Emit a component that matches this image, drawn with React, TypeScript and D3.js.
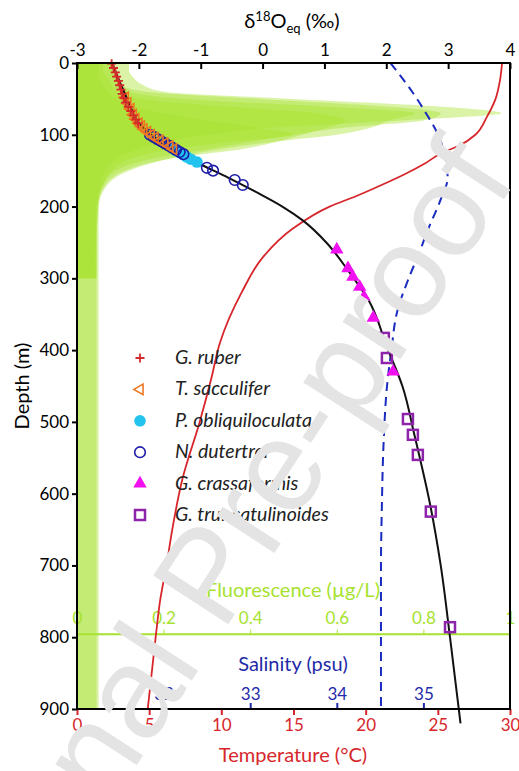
import React, { useEffect, useRef } from 'react';
import * as d3 from 'd3';

// depth grid of the fluorescence casts (m)
const fluoDepth = [0, 10, 20, 30, 40, 50, 60, 70, 80, 90, 100, 110, 120, 130, 140, 150, 170, 200, 250, 300, 400, 500, 600, 700, 800, 900];
// fluorescence casts (µg/L); the last three stop at 300 m
const fluoCastA = [0.12, 0.12, 0.13, 0.15, 0.2, 0.5, 0.82, 0.98, 0.75, 0.45, 0.3, 0.2, 0.14, 0.1, 0.08, 0.065, 0.055, 0.05, 0.05, 0.05, 0.05, 0.05, 0.05, 0.05, 0.05, 0.05];
const fluoCastB = [0.08, 0.08, 0.09, 0.1, 0.16, 0.42, 0.7, 0.84, 0.8, 0.62, 0.5, 0.4, 0.3, 0.2, 0.13, 0.09, 0.06, 0.045, 0.045, 0.045, 0.045, 0.045, 0.045, 0.045, 0.045, 0.045];
const fluoCastC = [0.08, 0.085, 0.09, 0.1, 0.12, 0.25, 0.55, 0.78, 0.72, 0.68, 0.6, 0.45, 0.33, 0.24, 0.17, 0.12, 0.07, 0.05, 0.045, 0.045];
const fluoCastD = [0.06, 0.06, 0.07, 0.08, 0.09, 0.15, 0.33, 0.55, 0.62, 0.58, 0.52, 0.46, 0.38, 0.25, 0.16, 0.11, 0.065, 0.048, 0.045, 0.045];
const fluoCastE = [0.05, 0.05, 0.05, 0.06, 0.07, 0.09, 0.12, 0.2, 0.3, 0.42, 0.5, 0.35, 0.22, 0.14, 0.1, 0.08, 0.06, 0.045, 0.043, 0.043];

// temperature profile
const tempDepth = [0, 25, 50, 75, 100, 115, 125, 140, 155, 170, 185, 200, 230, 270, 320, 390, 440, 500, 580, 650, 700, 750, 800, 900];
const tempValue = [29.45, 29.3, 29.0, 28.4, 27.6, 26.5, 25.3, 24.1, 22.7, 21.1, 19.4, 17.5, 15.0, 12.9, 11.4, 9.9, 9.3, 8.5, 7.3, 6.6, 6.2, 5.75, 5.45, 4.9];

// salinity profile
const salDepth = [0, 40, 70, 100, 130, 160, 190, 230, 265, 300, 345, 400, 450, 530, 620, 700, 800, 900];
const salValue = [34.62, 34.87, 35.03, 35.17, 35.25, 35.28, 35.2, 35.06, 34.95, 34.83, 34.7, 34.63, 34.58, 34.54, 34.52, 34.51, 34.51, 34.51];

// equilibrium d18O profile
const isoDepth = [0, 20, 40, 60, 80, 100, 120, 140, 160, 180, 200, 220, 250, 290, 330, 400, 450, 520, 620, 700, 800, 920];
const isoValue = [-2.43, -2.34, -2.24, -2.14, -2.03, -1.8, -1.48, -1.03, -0.55, -0.1, 0.32, 0.66, 1.03, 1.39, 1.71, 2.03, 2.26, 2.46, 2.72, 2.88, 3.03, 3.2];

// foraminifera d18O (‰) and depth (m)
const ruberDelta = [-2.44, -2.41, -2.38, -2.36, -2.33, -2.31, -2.29, -2.27, -2.24, -2.21, -2.17, -2.13, -2.09, -2.05, -2.01];
const ruberDepth = [1, 7, 13, 19, 25, 31, 37, 43, 49, 55, 61, 67, 73, 79, 84];
const sacculiferDelta = [-2.22, -2.18, -2.13, -2.09, -2.05, -2.0, -1.96, -1.92, -1.86, -1.8, -1.74, -1.66, -1.58, -1.5, -1.44];
const sacculiferDepth = [48, 56, 64, 72, 78, 84, 88, 92, 96, 100, 104, 108, 112, 116, 120];
const obliquiDelta = [-1.5, -1.45, -1.4, -1.34, -1.28, -1.22, -1.16, -1.06];
const obliquiDepth = [116, 119, 122, 125, 128, 131, 134, 138];
const dutertreiDelta = [-1.82, -1.76, -1.7, -1.64, -1.58, -1.52, -1.46, -1.4, -1.34, -1.28, -0.9, -0.8, -0.45, -0.32];
const dutertreiDepth = [100, 103, 106, 109, 112, 115, 118, 121, 124, 127, 146, 150, 163, 170];
const crassaDelta = [1.2, 1.38, 1.46, 1.57, 1.64, 1.79, 2.11];
const crassaDepth = [260, 286, 298, 312, 326, 355, 430];
const truncaDelta = [1.96, 2.01, 2.35, 2.43, 2.51, 2.72, 3.03];
const truncaDepth = [383, 411, 496, 518, 546, 625, 786];

const legendNames = ['G. ruber', 'T. sacculifer', 'P. obliquiloculata', 'N. dutertrei', 'G. crassaformis', 'G. truncatulinoides'];

// axis ticks
const isoTicks = [-3, -2, -1, 0, 1, 2, 3, 4];
const depthTicks = [0, 100, 200, 300, 400, 500, 600, 700, 800, 900];
const tempTicks = [0, 5, 10, 15, 20, 25, 30];
const salTicks = [32, 33, 34, 35];
const fluoTicks = [0, 0.2, 0.4, 0.6, 0.8, 1];
const fluoAxisDepth = 795;

const App = () => {
    const svgRef = useRef<SVGSVGElement | null>(null);

    useEffect(() => {
        const width = 519;
        const height = 771;
        const left = 77;
        const right = 510;
        const top = 63;
        const bottom = 709;
        const font = 'Lato, "Open Sans", sans-serif';

        const red = '#d7262b';
        const blue = '#1f2aa8';
        const green = '#a6e22e';

        const svg = d3.select(svgRef.current);
        svg.selectAll('*').remove();
        svg.attr('width', width).attr('height', height);

        const y = d3.scaleLinear().domain([0, 900]).range([top, bottom]);
        const xIso = d3.scaleLinear().domain([-3, 4]).range([left, right]);
        const xTemp = d3.scaleLinear().domain([0, 30]).range([left, right]);
        const xSal = d3.scaleLinear().domain([31, 36]).range([left, right]);
        const xFluo = d3.scaleLinear().domain([0, 1]).range([left, right]);

        // fluorescence casts, stacked with transparency
        const fluoArea = d3.area<number[]>()
            .curve(d3.curveMonotoneY)
            .x0(xFluo(0))
            .x1(d => xFluo(d[0]))
            .y(d => y(d[1]));
        [fluoCastA, fluoCastB, fluoCastC, fluoCastD, fluoCastE].forEach(cast => {
            const pts = cast.map((f, i) => [f, fluoDepth[i]]);
            svg.append('path')
                .datum(pts)
                .attr('d', fluoArea)
                .attr('fill', green)
                .attr('fill-opacity', 0.42);
        });

        // fluorescence axis inside the plot
        const fluoAxis = svg.append('g')
            .attr('transform', `translate(0,${y(fluoAxisDepth)})`)
            .call(d3.axisTop(xFluo).tickValues(fluoTicks).tickFormat(d => String(d))
                .tickSize(4).tickSizeOuter(0).tickPadding(6))
            .attr('font-family', font)
            .attr('font-size', 17);
        fluoAxis.select('.domain').attr('stroke', green).attr('stroke-width', 2);
        fluoAxis.selectAll('line').attr('stroke', green);
        fluoAxis.selectAll('text').attr('fill', green);

        const line = d3.line<number[]>()
            .curve(d3.curveMonotoneY)
            .x(d => d[0])
            .y(d => y(d[1]));

        svg.append('path')
            .datum(tempValue.map((t, i) => [xTemp(t), tempDepth[i]]))
            .attr('d', line)
            .attr('fill', 'none')
            .attr('stroke', red)
            .attr('stroke-width', 1.8);

        svg.append('path')
            .datum(salValue.map((s, i) => [xSal(s), salDepth[i]]))
            .attr('d', line)
            .attr('fill', 'none')
            .attr('stroke', '#1a2bc0')
            .attr('stroke-width', 2)
            .attr('stroke-dasharray', '9,6');

        svg.append('path')
            .datum(isoValue.map((v, i) => [xIso(v), isoDepth[i]]))
            .attr('d', line)
            .attr('fill', 'none')
            .attr('stroke', '#111')
            .attr('stroke-width', 2);

        const drawMarker = (g, kind, cx, cy) => {
            if (kind === 'cross') {
                g.append('path')
                    .attr('d', `M${cx - 4.5},${cy}H${cx + 4.5}M${cx},${cy - 4.5}V${cy + 4.5}`)
                    .attr('stroke', '#d42a2a').attr('stroke-width', 1.8);
            } else if (kind === 'triLeft') {
                g.append('path')
                    .attr('d', d3.symbol().type(d3.symbolTriangle).size(48)())
                    .attr('transform', `translate(${cx},${cy}) rotate(-90)`)
                    .attr('fill', 'none').attr('stroke', '#ee7722').attr('stroke-width', 1.6);
            } else if (kind === 'dot') {
                g.append('circle').attr('cx', cx).attr('cy', cy).attr('r', 5.8)
                    .attr('fill', '#22c3ee');
            } else if (kind === 'ring') {
                g.append('circle').attr('cx', cx).attr('cy', cy).attr('r', 5.3)
                    .attr('fill', 'none').attr('stroke', '#1c1ca8').attr('stroke-width', 1.6);
            } else if (kind === 'triUp') {
                g.append('path')
                    .attr('d', d3.symbol().type(d3.symbolTriangle).size(78)())
                    .attr('transform', `translate(${cx},${cy})`)
                    .attr('fill', '#f010f0');
            } else if (kind === 'square') {
                g.append('rect').attr('x', cx - 5).attr('y', cy - 5).attr('width', 10).attr('height', 10)
                    .attr('fill', 'none').attr('stroke', '#8e24aa').attr('stroke-width', 2.5);
            }
        };

        const species = [
            { kind: 'dot', delta: obliquiDelta, depth: obliquiDepth },
            { kind: 'ring', delta: dutertreiDelta, depth: dutertreiDepth },
            { kind: 'triLeft', delta: sacculiferDelta, depth: sacculiferDepth },
            { kind: 'cross', delta: ruberDelta, depth: ruberDepth },
            { kind: 'triUp', delta: crassaDelta, depth: crassaDepth },
            { kind: 'square', delta: truncaDelta, depth: truncaDepth },
        ];
        const markers = svg.append('g');
        species.forEach(s => {
            s.delta.forEach((v, i) => drawMarker(markers, s.kind, xIso(v), y(s.depth[i])));
        });

        // axes
        const styleAxis = (g, color) => {
            g.attr('font-family', font).attr('font-size', 17);
            g.select('.domain').remove();
            g.selectAll('line').attr('stroke', color).attr('stroke-width', 2);
            g.selectAll('text').attr('fill', color);
        };

        styleAxis(svg.append('g')
            .attr('transform', `translate(0,${top})`)
            .call(d3.axisTop(xIso).tickValues(isoTicks).tickFormat(d => String(d))
                .tickSize(-6).tickSizeOuter(0).tickPadding(7)), '#000');

        styleAxis(svg.append('g')
            .attr('transform', `translate(${left},0)`)
            .call(d3.axisLeft(y).tickValues(depthTicks).tickFormat(d => String(d))
                .tickSize(5).tickSizeOuter(0).tickPadding(3)), '#000');

        styleAxis(svg.append('g')
            .attr('transform', `translate(0,${bottom})`)
            .call(d3.axisBottom(xTemp).tickValues(tempTicks).tickFormat(d => String(d))
                .tickSize(6).tickSizeOuter(0).tickPadding(4)), red);

        styleAxis(svg.append('g')
            .attr('transform', `translate(0,${bottom})`)
            .call(d3.axisTop(xSal).tickValues(salTicks).tickFormat(d => String(d))
                .tickSize(6).tickSizeOuter(0).tickPadding(3)), blue);

        svg.append('rect')
            .attr('x', left).attr('y', top)
            .attr('width', right - left).attr('height', bottom - top)
            .attr('fill', 'none').attr('stroke', '#000').attr('stroke-width', 2);

        // axis titles
        const title = svg.append('text')
            .attr('x', 292).attr('y', 28)
            .attr('text-anchor', 'middle')
            .attr('font-family', font).attr('font-size', 20);
        title.append('tspan').text('δ');
        title.append('tspan').attr('font-size', 13).attr('dy', -7).text('18');
        title.append('tspan').attr('dy', 7).text('O');
        title.append('tspan').attr('font-size', 13).attr('dy', 5).text('eq');
        title.append('tspan').attr('dy', -5).text(' (‰)');

        svg.append('text')
            .attr('transform', 'translate(29,386) rotate(-90)')
            .attr('text-anchor', 'middle')
            .attr('font-family', font).attr('font-size', 20)
            .text('Depth (m)');

        svg.append('text')
            .attr('x', 293).attr('y', 762)
            .attr('text-anchor', 'middle')
            .attr('font-family', font).attr('font-size', 20)
            .attr('fill', red)
            .text('Temperature (°C)');

        svg.append('text')
            .attr('x', 293).attr('y', 671)
            .attr('text-anchor', 'middle')
            .attr('font-family', font).attr('font-size', 20)
            .attr('fill', blue)
            .text('Salinity (psu)');

        svg.append('text')
            .attr('x', 293).attr('y', 597)
            .attr('text-anchor', 'middle')
            .attr('font-family', font).attr('font-size', 20)
            .attr('fill', green)
            .text('Fluorescence (µg/L)');

        // legend
        const legend = svg.append('g');
        const legendY = d3.scalePoint().domain(legendNames).range([358, 515]);
        const legendKinds = ['cross', 'triLeft', 'dot', 'ring', 'triUp', 'square'];
        legendNames.forEach((name, i) => {
            const ly = legendY(name);
            drawMarker(legend, legendKinds[i], 140, ly);
            legend.append('text')
                .attr('x', 175).attr('y', ly + 6)
                .attr('font-family', font).attr('font-size', 19.5)
                .attr('font-style', 'italic')
                .attr('fill', '#222')
                .text(name);
        });

        // watermark
        svg.append('text')
            .attr('transform', 'translate(244,600) rotate(-57)')
            .attr('text-anchor', 'middle')
            .attr('font-family', '"Liberation Sans", Arial, sans-serif')
            .attr('font-size', 130)
            .attr('fill', '#e4e4e4')
            .text('Journal Pre-proof');
    }, []);

    return (
        <div style={{ position: 'absolute', left: 0, top: 0 }}>
            <svg ref={svgRef} style={{ display: 'block' }}></svg>
        </div>
    );
};

export default App;
